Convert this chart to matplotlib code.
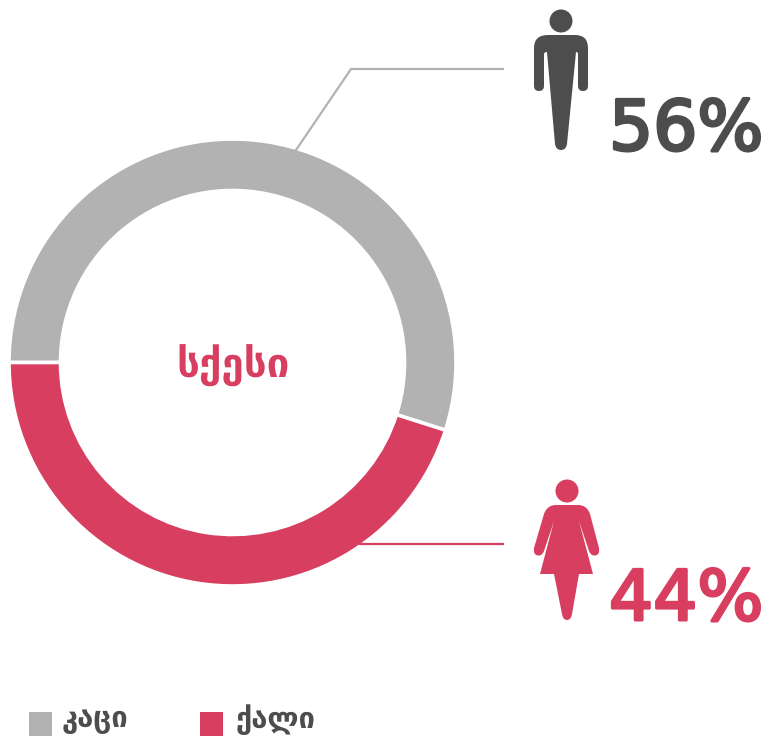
import matplotlib
matplotlib.use("Agg")
import matplotlib.pyplot as plt
import matplotlib.patheffects as pe
from matplotlib.patches import Circle, PathPatch, Rectangle
from matplotlib.path import Path

categories = ["კაცი", "ქალი"]
shares = [54.9, 45.1]
percent_labels = ["56%", "44%"]
center_title = "სქესი"

GRAY = "#b2b2b2"
PINK = "#d73e60"
DARK = "#4d4d4d"
W, H = 767, 737

fig = plt.figure(figsize=(W / 100, H / 100), dpi=100, facecolor="white")

# donut
R = 223.5
cx, cy = 232.5, 362.5
ax = fig.add_axes([(cx - R) / W, 1 - (cy + R) / H, 2 * R / W, 2 * R / H])
ax.pie(shares, colors=[GRAY, PINK], startangle=180, counterclock=False, radius=1,
       wedgeprops=dict(width=51.5 / R, edgecolor="white", linewidth=2.6))
ax.set_xlim(-1, 1)
ax.set_ylim(-1, 1)
ax.set_aspect("equal")
ax.axis("off")

# overlay in pixel coordinates
ov = fig.add_axes([0, 0, 1, 1], zorder=5)
ov.set_xlim(0, W)
ov.set_ylim(H, 0)
ov.axis("off")
ov.patch.set_alpha(0)

# leader lines
ov.plot([296, 351, 503], [150, 69, 69], color=GRAY, lw=1.6, solid_joinstyle="miter")
ov.plot([360, 503], [544, 544], color=PINK, lw=1.6)

M, L, C, Z = Path.MOVETO, Path.LINETO, Path.CURVE3, Path.CLOSEPOLY


def shape(pts, color):
    verts, codes = [], []
    for code, *xy in pts:
        codes.append(code)
        verts.append(xy if xy else (0, 0))
    ov.add_patch(PathPatch(Path(verts, codes), facecolor=color, edgecolor="none"))


# man icon
ov.add_patch(Circle((561, 21), 11.5, color=DARK, lw=0))
shape([(M, 548, 35), (L, 575, 35), (C, 588, 35), (C, 588, 48), (L, 588, 86),
       (C, 588, 91), (C, 583, 91), (C, 578, 91), (C, 578, 86), (L, 578, 54),
       (C, 578, 52), (C, 576, 52), (L, 567, 144), (C, 566, 150), (C, 561, 150),
       (C, 556, 150), (C, 555, 144), (L, 547, 52), (C, 544, 52), (C, 544, 54),
       (L, 544, 86), (C, 544, 91), (C, 539, 91), (C, 534, 91), (C, 534, 86),
       (L, 534, 48), (C, 534, 35), (C, 548, 35), (Z,)], DARK)

# woman icon
ov.add_patch(Circle((567, 491), 11.5, color=PINK, lw=0))
shape([(M, 556, 505), (L, 578, 505), (C, 587, 505), (C, 590, 514), (L, 599, 548),
       (C, 600, 555), (C, 595, 555.5), (C, 591, 556), (C, 589, 551), (L, 579, 521),
       (L, 593, 574), (L, 579, 574), (L, 572, 614), (C, 571, 620), (C, 567, 620),
       (C, 563, 620), (C, 562, 614), (L, 554, 574), (L, 540, 574), (L, 554, 521),
       (L, 544, 551), (C, 542, 556), (C, 538, 555.5), (C, 533, 555), (C, 534, 548),
       (L, 544, 514), (C, 547, 505), (C, 556, 505), (Z,)], PINK)

# percent labels
for label, color, x, y in [(percent_labels[0], DARK, 609, 150),
                           (percent_labels[1], PINK, 609, 620)]:
    ov.text(x, y, label, color=color, fontsize=50, family="DejaVu Sans",
            va="baseline", ha="left",
            path_effects=[pe.withStroke(linewidth=2.2, foreground=color)])

# centre title
ov.text(233, 366, center_title, color=PINK, fontsize=29, fontweight="bold",
        family="DejaVu Sans", ha="center", va="center")

# legend
for name, color, xs, tx in zip(categories, [GRAY, PINK], [29, 200], [62, 236]):
    ov.add_patch(Rectangle((xs, 712), 23, 24, facecolor=color, edgecolor="none"))
    ov.text(tx, 720, name, color=DARK, fontsize=21, fontweight="bold",
            family="DejaVu Sans", ha="left", va="center")

fig.savefig("out.png", dpi=100, facecolor="white")
